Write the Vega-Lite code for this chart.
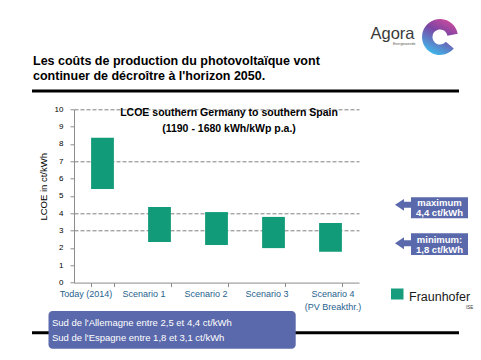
{
  "$schema": "https://vega.github.io/schema/vega-lite/v6.json",
  "width": 285,
  "height": 173.3,
  "autosize": {"type": "none"},
  "padding": {"left": 74, "top": 109.3, "right": 122, "bottom": 77.4},
  "background": "white",
  "config": {
    "view": {"stroke": null},
    "font": "Liberation Sans",
    "axisY": {
      "labelOverlap": false,
      "tickSize": 4,
      "tickColor": "#8c8c8c",
      "domainColor": "#8c8c8c",
      "labelPadding": 7,
      "labelFontSize": 8,
      "labelColor": "black",
      "grid": true,
      "gridColor": "#7f7f7f",
      "gridDash": [4, 2]
    }
  },
  "data": {
    "values": [
      {"scenario": "Today (2014)", "min": 5.4, "max": 8.36},
      {"scenario": "Scenario 1", "min": 2.34, "max": 4.36},
      {"scenario": "Scenario 2", "min": 2.17, "max": 4.07},
      {"scenario": "Scenario 3", "min": 1.99, "max": 3.79},
      {"scenario": "Scenario 4 (PV Breakthr.)", "min": 1.78, "max": 3.44}
    ]
  },
  "layer": [
    {
      "mark": {"type": "bar", "color": "#129b79"},
      "encoding": {
        "x": {
          "field": "scenario",
          "type": "nominal",
          "sort": null,
          "scale": {
            "domain": ["Today (2014)", "Scenario 1", "Scenario 2", "Scenario 3", "Scenario 4 (PV Breakthr.)"],
            "paddingInner": 0.6,
            "paddingOuter": 0.3
          },
          "axis": {
            "title": null,
            "labelAngle": 0,
            "tickBand": "extent",
            "tickSize": 4,
            "tickColor": "#8c8c8c",
            "domainColor": "#8c8c8c",
            "labelPadding": 2.5,
            "labelColor": "#1f628e",
            "labelFontSize": 9,
            "labelBaseline": "top",
            "labelLineHeight": 13,
            "labelLimit": 0,
            "labelExpr": "datum.label == 'Scenario 4 (PV Breakthr.)' ? ['Scenario 4', '(PV Breakthr.)'] : datum.label",
            "labelOffset": {
              "condition": [
                {"test": "datum.value === 'Today (2014)'", "value": -17},
                {"test": "datum.value === 'Scenario 1'", "value": -16},
                {"test": "datum.value === 'Scenario 2'", "value": -11},
                {"test": "datum.value === 'Scenario 3'", "value": -7}
              ],
              "value": 2
            }
          }
        },
        "y": {
          "field": "max",
          "type": "quantitative",
          "scale": {"domain": [0, 10], "nice": false},
          "axis": {
            "values": [0, 1, 2, 3, 4, 5, 6, 7, 8, 9, 10],
            "gridOpacity": {"condition": {"test": "indexof([3, 4, 7, 10], datum.value) >= 0", "value": 1}, "value": 0},
            "title": "LCOE in ct/kWh",
            "titleFontSize": 9.5,
            "titleFontWeight": "normal",
            "titleColor": "black",
            "titleAngle": 270,
            "titleX": -31,
            "titleY": 77,
            "titleAlign": "center",
            "titleBaseline": "middle"
          }
        },
        "y2": {"field": "min"}
      }
    },
    {
      "data": {"values": [{}]},
      "mark": {"type": "text", "align": "center", "baseline": "alphabetic", "dx": 12.5, "dy": 6.7, "fontSize": 10.5, "fontWeight": "bold", "color": "black", "lineHeight": 15.5},
      "encoding": {
        "x": {"datum": "Scenario 2", "type": "nominal"},
        "y": {"datum": 10, "type": "quantitative", "axis": {"values": [0, 1, 2, 3, 4, 5, 6, 7, 8, 9, 10]}},
        "text": {"value": ["LCOE southern Germany to southern Spain", "(1190 - 1680 kWh/kWp p.a.)"]}
      }
    },
    {
      "data": {"values": [{}]},
      "mark": {"type": "text", "align": "left", "baseline": "alphabetic", "dx": -69.5, "dy": -44.6, "fontSize": 12.5, "fontWeight": "bold", "color": "black", "lineHeight": 15.3},
      "encoding": {
        "x": {"datum": "Today (2014)", "type": "nominal"},
        "y": {"datum": 10, "type": "quantitative", "axis": {"values": [0, 1, 2, 3, 4, 5, 6, 7, 8, 9, 10]}},
        "text": {"value": ["Les coûts de production du photovoltaïque vont", "continuer de décroître à l'horizon 2050."]}
      }
    },
    {
      "data": {"values": [{}]},
      "mark": {"type": "point", "filled": true, "opacity": 1, "strokeWidth": 0, "color": "black", "size": 40000,
        "shape": "M -0.705 -0.198 L 3.565 -0.198 L 3.565 -0.168 L -0.705 -0.168 Z"},
      "encoding": {
        "x": {"datum": "Today (2014)", "type": "nominal"},
        "y": {"datum": 10, "type": "quantitative", "axis": {"values": [0, 1, 2, 3, 4, 5, 6, 7, 8, 9, 10]}}
      }
    },
    {
      "data": {"values": [{}]},
      "mark": {"type": "point", "filled": true, "opacity": 1, "strokeWidth": 0, "color": "black", "size": 40000,
        "shape": "M -0.705 0.487 L 3.565 0.487 L 3.565 0.517 L -0.705 0.517 Z"},
      "encoding": {
        "x": {"datum": "Today (2014)", "type": "nominal"},
        "y": {"datum": 0, "type": "quantitative", "axis": {"values": [0, 1, 2, 3, 4, 5, 6, 7, 8, 9, 10]}}
      }
    },
    {
      "data": {"values": [{}]},
      "mark": {"type": "point", "filled": true, "opacity": 1, "strokeWidth": 0, "color": "#5a69ab", "size": 40000,
        "shape": "M -0.5 0.284 L 1.892 0.284 A 0.04 0.04 0 0 1 1.932 0.324 L 1.932 0.621 A 0.04 0.04 0 0 1 1.892 0.661 L -0.5 0.661 A 0.04 0.04 0 0 1 -0.54 0.621 L -0.54 0.324 A 0.04 0.04 0 0 1 -0.5 0.284 Z"},
      "encoding": {
        "x": {"datum": "Today (2014)", "type": "nominal"},
        "y": {"datum": 0, "type": "quantitative", "axis": {"values": [0, 1, 2, 3, 4, 5, 6, 7, 8, 9, 10]}}
      }
    },
    {
      "data": {"values": [{}]},
      "mark": {"type": "text", "align": "left", "baseline": "alphabetic", "dx": -50.5, "dy": 42.9, "fontSize": 9.5, "color": "white", "lineHeight": 15.4},
      "encoding": {
        "x": {"datum": "Today (2014)", "type": "nominal"},
        "y": {"datum": 0, "type": "quantitative", "axis": {"values": [0, 1, 2, 3, 4, 5, 6, 7, 8, 9, 10]}},
        "text": {"value": ["Sud de l'Allemagne entre 2,5 et 4,4 ct/kWh", "Sud de l'Espagne entre 1,8 et 3,1 ct/kWh"]}
      }
    },
    {
      "data": {"values": [{}]},
      "mark": {"type": "point", "filled": true, "opacity": 1, "strokeWidth": 0, "color": "#5a69ab", "size": 40000,
        "shape": "M 0.645 -0.031 L 0.735 -0.088 L 0.735 -0.061 L 0.805 -0.061 L 0.805 -0.105 L 1.375 -0.105 L 1.375 0.105 L 0.805 0.105 L 0.805 -0.001 L 0.735 -0.001 L 0.735 0.029 Z"},
      "encoding": {
        "x": {"datum": "Scenario 4 (PV Breakthr.)", "type": "nominal"},
        "y": {"datum": 4.32, "type": "quantitative", "axis": {"values": [0, 1, 2, 3, 4, 5, 6, 7, 8, 9, 10]}}
      }
    },
    {
      "data": {"values": [{}]},
      "mark": {"type": "text", "align": "center", "baseline": "alphabetic", "dx": 109, "dy": -2, "fontSize": 9.5, "fontWeight": "bold", "color": "white", "lineHeight": 10.3},
      "encoding": {
        "x": {"datum": "Scenario 4 (PV Breakthr.)", "type": "nominal"},
        "y": {"datum": 4.32, "type": "quantitative", "axis": {"values": [0, 1, 2, 3, 4, 5, 6, 7, 8, 9, 10]}},
        "text": {"value": ["maximum", "4,4 ct/kWh"]}
      }
    },
    {
      "data": {"values": [{}]},
      "mark": {"type": "point", "filled": true, "opacity": 1, "strokeWidth": 0, "color": "#5a69ab", "size": 40000,
        "shape": "M 0.645 -0.009 L 0.735 -0.069 L 0.735 -0.039 L 0.805 -0.039 L 0.805 -0.109 L 1.375 -0.109 L 1.375 0.109 L 0.805 0.109 L 0.805 0.021 L 0.735 0.021 L 0.735 0.051 Z"},
      "encoding": {
        "x": {"datum": "Scenario 4 (PV Breakthr.)", "type": "nominal"},
        "y": {"datum": 2.22, "type": "quantitative", "axis": {"values": [0, 1, 2, 3, 4, 5, 6, 7, 8, 9, 10]}}
      }
    },
    {
      "data": {"values": [{}]},
      "mark": {"type": "text", "align": "center", "baseline": "alphabetic", "dx": 109, "dy": -1.5, "fontSize": 9.5, "fontWeight": "bold", "color": "white", "lineHeight": 10.3},
      "encoding": {
        "x": {"datum": "Scenario 4 (PV Breakthr.)", "type": "nominal"},
        "y": {"datum": 2.22, "type": "quantitative", "axis": {"values": [0, 1, 2, 3, 4, 5, 6, 7, 8, 9, 10]}},
        "text": {"value": ["minimum:", "1,8 ct/kWh"]}
      }
    },
    {
      "data": {"values": [{}]},
      "mark": {"type": "text", "align": "left", "baseline": "alphabetic", "dx": 40, "dy": -70.5, "fontSize": 16.5, "color": "#3a3a3a"},
      "encoding": {
        "x": {"datum": "Scenario 4 (PV Breakthr.)", "type": "nominal"},
        "y": {"datum": 10, "type": "quantitative", "axis": {"values": [0, 1, 2, 3, 4, 5, 6, 7, 8, 9, 10]}},
        "text": {"value": "Agora"}
      }
    },
    {
      "data": {"values": [{}]},
      "mark": {"type": "text", "align": "left", "baseline": "alphabetic", "dx": 62.5, "dy": -64.8, "fontSize": 3.5, "color": "#555555"},
      "encoding": {
        "x": {"datum": "Scenario 4 (PV Breakthr.)", "type": "nominal"},
        "y": {"datum": 10, "type": "quantitative", "axis": {"values": [0, 1, 2, 3, 4, 5, 6, 7, 8, 9, 10]}},
        "text": {"value": "Energiewende"}
      }
    },
    {
      "data": {"values": [{}]},
      "mark": {"type": "point", "filled": true, "opacity": 1, "strokeWidth": 0, "size": 40000,
        "color": {"gradient": "linear", "x1": 0.9, "y1": 0, "x2": 0.4, "y2": 1,
          "stops": [{"offset": 0, "color": "#db4c9c"}, {"offset": 0.45, "color": "#7b45a3"}, {"offset": 1, "color": "#40b4e8"}]},
        "shape": "M 1.2723 -0.7543 A 0.18 0.18 0 1 0 1.2329 -0.6073 L 1.1525 -0.6748 A 0.075 0.075 0 1 1 1.1689 -0.736 Z"},
      "encoding": {
        "x": {"datum": "Scenario 4 (PV Breakthr.)", "type": "nominal"},
        "y": {"datum": 10, "type": "quantitative", "axis": {"values": [0, 1, 2, 3, 4, 5, 6, 7, 8, 9, 10]}}
      }
    },
    {
      "data": {"values": [{}]},
      "mark": {"type": "point", "filled": true, "opacity": 1, "strokeWidth": 0, "color": "#179c7d", "size": 40000,
        "shape": "M 0.605 0.059 L 0.73 0.059 L 0.73 0.169 L 0.605 0.169 Z"},
      "encoding": {
        "x": {"datum": "Scenario 4 (PV Breakthr.)", "type": "nominal"},
        "y": {"datum": 0, "type": "quantitative", "axis": {"values": [0, 1, 2, 3, 4, 5, 6, 7, 8, 9, 10]}}
      }
    },
    {
      "data": {"values": [{}]},
      "mark": {"type": "text", "align": "left", "baseline": "alphabetic", "dx": 78.5, "dy": 17.9, "fontSize": 12.5, "color": "#1a1a1a"},
      "encoding": {
        "x": {"datum": "Scenario 4 (PV Breakthr.)", "type": "nominal"},
        "y": {"datum": 0, "type": "quantitative", "axis": {"values": [0, 1, 2, 3, 4, 5, 6, 7, 8, 9, 10]}},
        "text": {"value": "Fraunhofer"}
      }
    },
    {
      "data": {"values": [{}]},
      "mark": {"type": "text", "align": "left", "baseline": "alphabetic", "dx": 135.5, "dy": 25.9, "fontSize": 4.5, "color": "#333333"},
      "encoding": {
        "x": {"datum": "Scenario 4 (PV Breakthr.)", "type": "nominal"},
        "y": {"datum": 0, "type": "quantitative", "axis": {"values": [0, 1, 2, 3, 4, 5, 6, 7, 8, 9, 10]}},
        "text": {"value": "ISE"}
      }
    }
  ]
}
